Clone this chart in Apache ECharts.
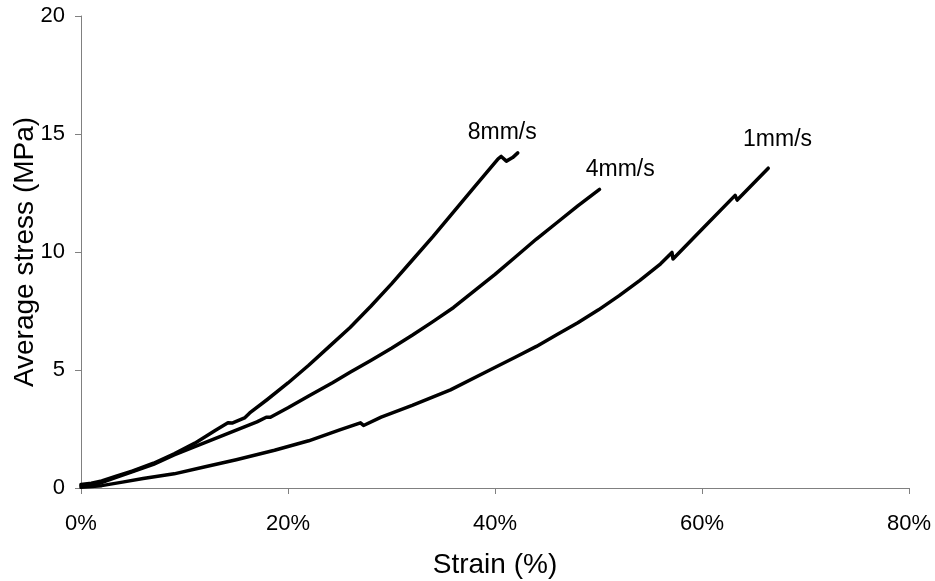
<!DOCTYPE html>
<html>
<head>
<meta charset="utf-8">
<script src="https://cdn.jsdelivr.net/npm/echarts@6/dist/echarts.min.js"></script>
<style>html,body{margin:0;padding:0;background:#fff}#c{width:935px;height:581px}</style>
</head>
<body>
<div id="c"></div>
<script>
const xTicks = [0, 20, 40, 60, 80];
const yTicks = [0, 5, 10, 15, 20];
const seriesNames = ['8mm/s', '4mm/s', '1mm/s'];

const strain8 = [0, 1, 2, 3.4, 5, 7, 9, 11, 13, 14.2, 14.6, 15.8, 16.3, 18, 20, 22, 24, 26, 28, 30, 32, 34, 36, 38, 40.3, 40.6, 41.1, 41.7, 42.2];
const stress8 = [0.15, 0.2, 0.3, 0.5, 0.72, 1.05, 1.45, 1.9, 2.45, 2.76, 2.75, 2.97, 3.18, 3.75, 4.45, 5.2, 6.0, 6.8, 7.7, 8.65, 9.65, 10.65, 11.7, 12.75, 13.95, 14.05, 13.85, 14.0, 14.2];

const strain4 = [0, 1.5, 3.4, 5, 7, 9, 11, 13, 15, 17, 17.9, 18.3, 20, 22, 24.3, 26, 28, 30, 32, 34, 36, 38, 40, 42, 44, 46, 48, 50.1];
const stress4 = [0.1, 0.15, 0.45, 0.7, 1.0, 1.4, 1.75, 2.1, 2.45, 2.8, 3.0, 3.0, 3.4, 3.9, 4.46, 4.9, 5.4, 5.92, 6.47, 7.05, 7.65, 8.35, 9.05, 9.8, 10.55, 11.25, 11.95, 12.65];

const strain1 = [0, 2, 4, 6, 9, 12, 15, 18.7, 22, 25, 27, 27.3, 29, 32, 35.7, 39.5, 42, 44, 46, 48, 50, 52, 54, 56, 57.1, 57.2, 60, 63.2, 63.4, 66.4];
const stress1 = [0.03, 0.1, 0.25, 0.4, 0.6, 0.9, 1.2, 1.6, 2.0, 2.46, 2.76, 2.65, 3.0, 3.5, 4.16, 5.0, 5.55, 6.0, 6.5, 7.0, 7.55, 8.15, 8.8, 9.5, 9.98, 9.7, 10.96, 12.4, 12.2, 13.55];

// label anchor positions (data units) for the series names
const labelStrain = [40.7, 52.1, 67.3];
const labelStress = [15.07, 13.5, 14.78];

function pairs(xs, ys) { return xs.map((x, i) => [x, ys[i]]); }

const allData = [pairs(strain8, stress8), pairs(strain4, stress4), pairs(strain1, stress1)];

const chart = echarts.init(document.getElementById('c'), null, { renderer: 'canvas' });
const font = 'Liberation Sans, Arial, sans-serif';

const series = allData.map((d, i) => ({
  name: seriesNames[i],
  type: 'line',
  data: d,
  showSymbol: false,
  symbol: 'none',
  lineStyle: { color: '#000', width: 3.5, cap: 'round', join: 'round' },
  animation: false,
  markPoint: {
    symbol: 'circle',
    symbolSize: 0,
    silent: true,
    data: [{
      coord: [labelStrain[i], labelStress[i]],
      label: { show: true, formatter: seriesNames[i], color: '#000', fontSize: 23, fontFamily: font, position: 'inside' }
    }]
  }
}));

chart.setOption({
  backgroundColor: '#fff',
  animation: false,
  grid: { left: 81, right: 26, top: 16, bottom: 93, containLabel: false, outerBoundsMode: 'none' },
  xAxis: {
    type: 'value', min: 0, max: 80, interval: 20,
    name: 'Strain (%)', nameLocation: 'middle', nameGap: 63, nameMoveOverlap: false,
    nameTextStyle: { fontSize: 28, fontFamily: font, color: '#000' },
    axisLine: { show: true, lineStyle: { color: '#808080', width: 1 } },
    axisTick: { show: true, length: 6, lineStyle: { color: '#808080' } },
    axisLabel: { formatter: '{value}%', fontSize: 22, fontFamily: font, color: '#000', margin: 25 },
    splitLine: { show: false }
  },
  yAxis: {
    type: 'value', min: 0, max: 20, interval: 5,
    name: 'Average stress (MPa)', nameLocation: 'middle', nameGap: 42, nameRotate: 90, nameMoveOverlap: false,
    nameTextStyle: { fontSize: 28, fontFamily: font, color: '#000' },
    axisLine: { show: true, lineStyle: { color: '#808080', width: 1 } },
    axisTick: { show: true, length: 6, lineStyle: { color: '#808080' } },
    axisLabel: { fontSize: 22, fontFamily: font, color: '#000', margin: 16 },
    splitLine: { show: false }
  },
  series: series
});
</script>
</body>
</html>
